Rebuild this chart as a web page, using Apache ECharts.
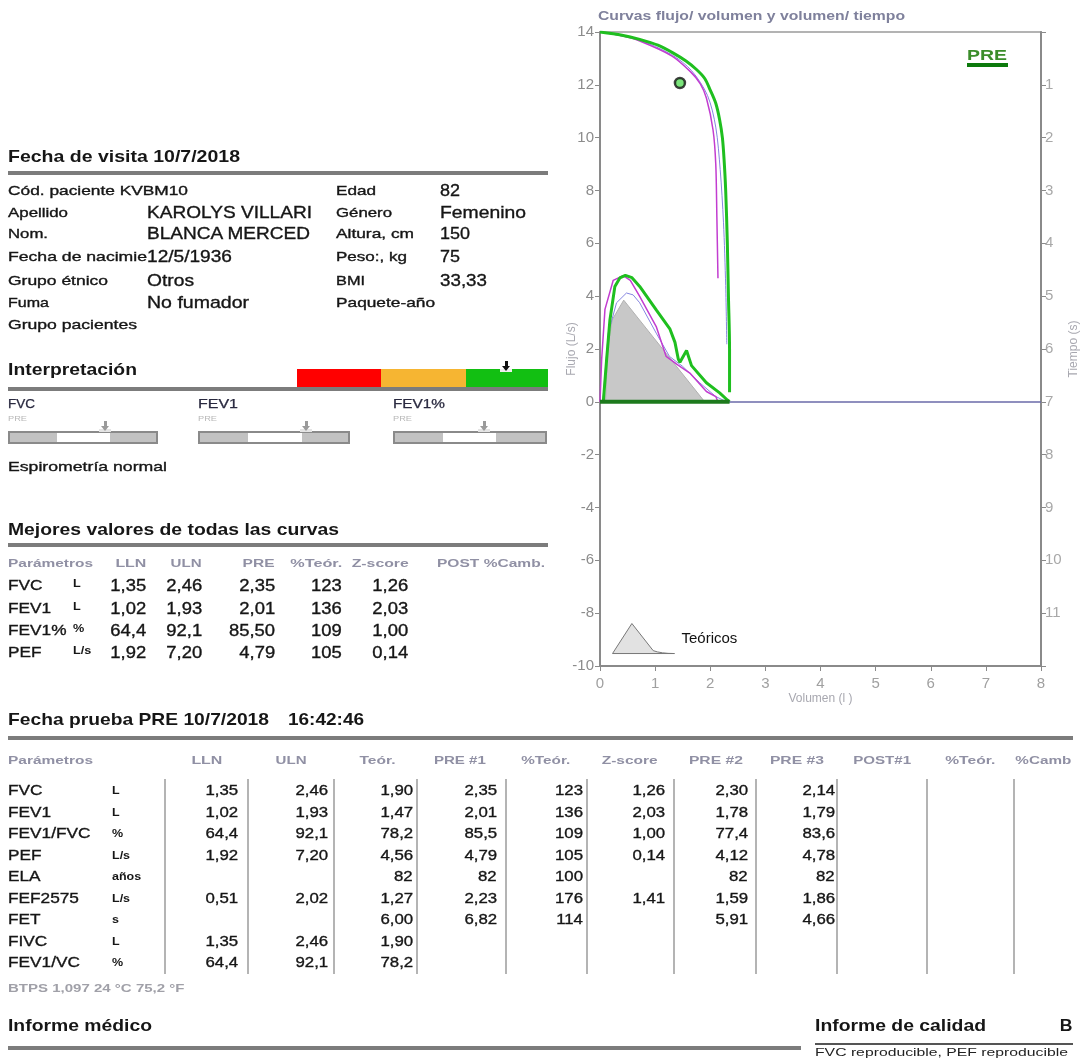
<!DOCTYPE html>
<html><head><meta charset="utf-8">
<script src="https://cdn.jsdelivr.net/npm/echarts@6/dist/echarts.min.js"></script>
<style>
html,body{margin:0;padding:0;background:#fff;}
#page{position:relative;width:1083px;height:1059px;overflow:hidden;font-family:"Liberation Sans",Arial,sans-serif;}
#chart{position:absolute;left:0;top:0;width:1083px;height:1059px;}
#ov{position:absolute;left:0;top:0;width:1083px;height:1059px;pointer-events:none;}
.t{position:absolute;white-space:nowrap;}
.r{position:absolute;}
</style></head><body>
<div id="page"><div id="chart"></div><div id="ov"></div></div>
<script>
// ---------------- chart data ----------------
const volumeTicks = [0, 1, 2, 3, 4, 5, 6, 7, 8];
const predictedFlowVolume = [[0.10,0],[0.14,2.0],[0.22,3.1],[0.43,3.85],[1.90,0]];
const pre1FlowVolume = [[0.06,0],[0.12,1.6],[0.18,3.1],[0.27,4.37],[0.36,4.69],[0.46,4.79],[0.58,4.70],[0.72,4.37],[1.02,3.48],[1.27,2.75],[1.36,2.25],[1.42,1.62],[1.45,1.50],[1.57,1.94],[1.66,1.37],[1.93,0.72],[2.17,0.34],[2.31,0.07],[2.35,0]];
const pre2FlowVolume = [[0.05,0],[0.15,2.6],[0.30,3.75],[0.48,4.12],[0.60,4.05],[0.72,3.75],[1.02,2.60],[1.26,1.72],[1.50,1.34],[1.81,0.72],[2.10,0.20],[2.30,0]];
const pre3FlowVolume = [[0.00,0],[0.03,1.6],[0.09,3.5],[0.24,4.6],[0.42,4.78],[0.55,4.6],[0.72,3.99],[1.02,2.85],[1.20,1.72],[1.41,1.40],[1.63,1.09],[1.93,0.39],[2.10,0.20],[2.14,0]];
const pre1Inspiration = [[0,0],[2.35,0]];
const pre1VolumeTime = [[0,0],[0.40,0.06],[0.72,0.14],[1.05,0.25],[1.33,0.40],[1.56,0.55],[1.75,0.71],[1.90,0.88],[2.00,1.10],[2.10,1.35],[2.17,1.66],[2.22,2.00],[2.25,2.40],[2.28,3.00],[2.31,4.00],[2.33,5.00],[2.35,6.00],[2.35,6.82]];
const pre2VolumeTime = [[0,0],[0.70,0.15],[1.30,0.43],[1.66,0.73],[1.95,1.20],[2.10,1.80],[2.18,2.60],[2.24,3.60],[2.28,4.80],[2.30,5.91]];
const pre3VolumeTime = [[0,0],[0.40,0.07],[0.70,0.16],[1.30,0.45],[1.64,0.75],[1.82,0.98],[1.93,1.25],[2.05,1.85],[2.10,2.50],[2.12,3.50],[2.14,4.66]];
const extrapolationPoint = [[1.45,12.07]];

// ---------------- patient data ----------------
const infoLabels = ["Cód. paciente KVBM10","Apellido","Nom.","Fecha de nacimie","Grupo étnico","Fuma","Grupo pacientes"];
const infoValues = ["","KAROLYS VILLARI","BLANCA MERCED","12/5/1936","Otros","No fumador",""];
const infoLabels2 = ["Edad","Género","Altura, cm","Peso:, kg","BMI","Paquete-año"];
const infoValues2 = ["82","Femenino","150","75","33,33",""];

// ---------------- best values ----------------
const bestHeaders = ["Parámetros","LLN","ULN","PRE","%Teór.","Z-score","POST %Camb."];
const bestParams = ["FVC","FEV1","FEV1%","PEF"];
const bestUnits = ["L","L","%","L/s"];
const bestLLN = ["1,35","1,02","64,4","1,92"];
const bestULN = ["2,46","1,93","92,1","7,20"];
const bestPRE = ["2,35","2,01","85,50","4,79"];
const bestPct = ["123","136","109","105"];
const bestZ = ["1,26","2,03","1,00","0,14"];

// ---------------- test table ----------------
const testHeaders = ["Parámetros","LLN","ULN","Teór.","PRE #1","%Teór.","Z-score","PRE #2","PRE #3","POST#1","%Teór.","%Camb"];
const testParams = ["FVC","FEV1","FEV1/FVC","PEF","ELA","FEF2575","FET","FIVC","FEV1/VC"];
const testUnits = ["L","L","%","L/s","años","L/s","s","L","%"];
const testLLN = ["1,35","1,02","64,4","1,92","","0,51","","1,35","64,4"];
const testULN = ["2,46","1,93","92,1","7,20","","2,02","","2,46","92,1"];
const testTeor = ["1,90","1,47","78,2","4,56","82","1,27","6,00","1,90","78,2"];
const testPre1 = ["2,35","2,01","85,5","4,79","82","2,23","6,82","",""];
const testPct = ["123","136","109","105","100","176","114","",""];
const testZ = ["1,26","2,03","1,00","0,14","","1,41","","",""];
const testPre2 = ["2,30","1,78","77,4","4,12","82","1,59","5,91","",""];
const testPre3 = ["2,14","1,79","83,6","4,78","82","1,86","4,66","",""];

// ---------------- text helpers ----------------
const ov = document.getElementById('ov');
const FAM = '"Liberation Sans", Arial, sans-serif';
const mctx = document.createElement('canvas').getContext('2d');
function txt(s, x, cy, o) {
  o = o || {};
  if (!s) return;
  const size = o.size || 13, weight = o.bold ? 'bold' : 'normal';
  const font = weight + ' ' + size + 'px ' + FAM;
  mctx.font = font;
  const nat = mctx.measureText(s).width;
  const sx = o.w ? o.w / nat : (o.sx || 1.1);
  const d = document.createElement('div');
  d.className = 't';
  d.textContent = s;
  d.style.font = font;
  d.style.lineHeight = (size * 1.2) + 'px';
  d.style.top = (cy - size * 0.59) + 'px';
  d.style.color = o.color || '#161616';
  if (o.stroke) d.style.webkitTextStroke = o.stroke + 'px ' + (o.color || '#161616');
  if (o.align === 'right') { d.style.right = (1083 - x) + 'px'; d.style.transformOrigin = 'right center'; }
  else { d.style.left = x + 'px'; d.style.transformOrigin = 'left center'; }
  d.style.transform = 'scaleX(' + sx + ')';
  ov.appendChild(d);
}
function box(x, y, w, h, bg, extra) {
  const d = document.createElement('div');
  d.className = 'r';
  d.style.left = x + 'px'; d.style.top = y + 'px';
  d.style.width = w + 'px'; d.style.height = h + 'px';
  if (bg) d.style.background = bg;
  if (extra) Object.assign(d.style, extra);
  ov.appendChild(d);
  return d;
}
function rule(x, y, w, h) { box(x, y, w, h || 4, '#7c7c7c'); }
function arrow(cx, top, col, base) {
  if (base) box(cx - 6, top + 8, 12, 3, base);
  box(cx - 1.5, top, 3, 5, col);
  box(cx - 4.5, top + 5, 0, 0, null, {borderLeft:'4.5px solid transparent', borderRight:'4.5px solid transparent', borderTop:'5px solid ' + col});
}
const SK = 0.35;

// ---------------- section 1: visit ----------------
txt("Fecha de visita 10/7/2018", 8, 157, {size:17, bold:true, w:232});
rule(8, 171, 540);
const rowY = [191, 213, 234, 257, 281, 303, 325];
const labW = [180, 60, 40, 139, 100, 41, 129];
const valW = [0, 165, 164, 85, 47, 102, 0];
infoLabels.forEach((s, i) => txt(s, 8, rowY[i], {size:13, w:labW[i], stroke:SK}));
infoValues.forEach((s, i) => txt(s, 147, rowY[i], {size:17, w:valW[i], stroke:SK}));
const lab2W = [40, 56, 78, 71, 29, 99];
const val2W = [20, 86, 30, 20, 47, 0];
infoLabels2.forEach((s, i) => txt(s, 336, rowY[i], {size:13, w:lab2W[i], stroke:SK}));
infoValues2.forEach((s, i) => txt(s, 440, rowY[i], {size:17, w:val2W[i], stroke:SK}));

// ---------------- interpretation ----------------
txt("Interpretación", 8, 370, {size:17, bold:true, w:129});
box(297, 369, 84, 18, '#ff0000');
box(381, 369, 85, 18, '#f6b532');
box(466, 369, 82, 18, '#12bf12');
arrow(506, 361, '#111', '#eeeeee');
rule(8, 387, 540);
const gauges = [["FVC", 8, 158, 57, 110, 105, 27], ["FEV1", 198, 350, 248, 302, 306, 40], ["FEV1%", 393, 547, 443, 496, 484, 52]];
gauges.forEach(g => {
  txt(g[0], g[1], 404, {size:12, w:g[6], color:'#2a2a40', stroke:0.25});
  txt("PRE", g[1], 419, {size:7, w:19, color:'#b8b8b8'});
  box(g[1], 431, g[2] - g[1], 13, '#c2c2c2', {boxSizing:'border-box', border:'2px solid #8a8a8a'});
  box(g[3], 433, g[4] - g[3], 9, '#ffffff');
  arrow(g[5], 421, '#9a9a9a', '#e4e4e4');
});
txt("Espirometría normal", 8, 467, {size:13.5, w:159, stroke:SK});

// ---------------- best values ----------------
txt("Mejores valores de todas las curvas", 8, 530, {size:17, bold:true, w:331});
rule(8, 543, 540);
const bestHx = [[8,'l',85],[146,'r',31],[202,'r',31],[275,'r',32],[342,'r',52],[409,'r',57],[437,'l',108]];
bestHeaders.forEach((s, i) => txt(s, bestHx[i][0], 563, {size:11, bold:true, color:'#9090a4', w:bestHx[i][2], align:bestHx[i][1]==='r'?'right':'left'}));
const bestY = [585, 608, 630, 652];
bestParams.forEach((s, i) => {
  const y = bestY[i];
  txt(s, 8, y, {size:15, sx:1.15, stroke:SK});
  txt(bestUnits[i], 73, y - 2, {size:11, bold:true, sx:1.15});
  txt(bestLLN[i], 146, y, {size:16, sx:1.15, align:'right', stroke:SK});
  txt(bestULN[i], 202, y, {size:16, sx:1.15, align:'right', stroke:SK});
  txt(bestPRE[i], 275, y, {size:16, sx:1.15, align:'right', stroke:SK});
  txt(bestPct[i], 342, y, {size:16, sx:1.15, align:'right', stroke:SK});
  txt(bestZ[i], 408, y, {size:16, sx:1.15, align:'right', stroke:SK});
});

// ---------------- test table ----------------
txt("Fecha prueba PRE 10/7/2018", 8, 720, {size:17, bold:true, w:261});
txt("16:42:46", 288, 720, {size:17, bold:true, w:76});
rule(8, 736, 1065);
const testHx = [[8,'l',85],[222,'r',31],[307,'r',31],[395,'r',36],[486,'r',52],[570,'r',49],[658,'r',56],[743,'r',54],[824,'r',54],[911,'r',58],[995,'r',50],[1071,'r',56]];
testHeaders.forEach((s, i) => txt(s, testHx[i][0], 760, {size:11, bold:true, color:'#9090a4', w:testHx[i][2], align:testHx[i][1]==='r'?'right':'left'}));
const sepX = [165, 248, 334, 417, 506, 587, 674, 756, 837, 927, 1014];
sepX.forEach(x => box(x - 1, 779, 2, 195, '#b4b4b4'));
const colRight = [238, 328, 413, 497, 583, 665, 748, 835];
const cols = [testLLN, testULN, testTeor, testPre1, testPct, testZ, testPre2, testPre3];
testParams.forEach((s, i) => {
  const y = 790 + 21.5 * i;
  txt(s, 8, y, {size:15, sx:1.15, stroke:SK});
  txt(testUnits[i], 112, y + 1, {size:10, bold:true, sx:1.25});
  cols.forEach((c, j) => txt(c[i], colRight[j], y, {size:15, sx:1.12, align:'right', stroke:SK}));
});
txt("BTPS  1,097  24 °C  75,2 °F", 8, 988, {size:11, bold:true, color:'#a0a0a8', w:189});

// ---------------- bottom ----------------
txt("Informe médico", 8, 1025, {size:16, bold:true, w:144});
rule(8, 1046, 793);
txt("Informe de calidad", 815, 1025, {size:16, bold:true, w:171});
txt("B", 1073, 1025, {size:16, bold:true, align:'right', sx:1.1});
box(815, 1043, 258, 2, '#555');
txt("FVC reproducible, PEF reproducible", 815, 1052, {size:11, w:253, color:'#222'});

// chart title and PRE label
txt("Curvas flujo/ volumen y volumen/ tiempo", 598, 16, {size:12, bold:true, w:307, color:'#7f819c'});
txt("PRE", 967, 55, {size:15, bold:true, w:40, color:'#3b8d2a'});
box(967, 63, 41, 4, '#0d7a0d');

// ---------------- chart ----------------
const chart = echarts.init(document.getElementById('chart'), null, {renderer:'canvas'});
const axisCol = '#8a8a8a';
chart.setOption({
  backgroundColor: 'transparent',
  animation: false,
  legend: {
    data:[{name:'Teóricos', icon:'path://M0,31 L20,0 L42,28 Q50,31 64,31 Z'}],
    left:607, top:618, itemWidth:62, itemHeight:33, itemGap:0, selectedMode:false,
    itemStyle:{color:'#e2e2e2', borderColor:'#777', borderWidth:1},
    textStyle:{fontSize:15, color:'#111', fontFamily:FAM, padding:[0,0,0,2]}
  },
  grid: {left:600, top:32, width:441, height:634, show:true, borderColor:'#9a9a9a', borderWidth:1.5, backgroundColor:'transparent'},
  xAxis: {type:'value', min:0, max:8, interval:1, name:'Volumen (l )', nameLocation:'middle', nameGap:27, nameMoveOverlap:false,
    nameTextStyle:{color:'#a8a8b0', fontSize:12, fontFamily:FAM},
    axisLine:{onZero:false, lineStyle:{color:axisCol, width:2}}, axisTick:{length:5, lineStyle:{color:axisCol}},
    axisLabel:{color:'#a0a0a0', fontSize:15, margin:10, fontFamily:FAM, formatter: v => String(volumeTicks[v] !== undefined ? volumeTicks[v] : v)}, splitLine:{show:false}},
  yAxis: [
    {type:'value', min:-10, max:14, interval:2, name:'Flujo (L/s)', nameLocation:'middle', nameGap:22, nameRotate:90, nameMoveOverlap:false,
      nameTextStyle:{color:'#a8a8b0', fontSize:12, fontFamily:FAM},
      axisLine:{show:true, onZero:false, lineStyle:{color:axisCol, width:2}}, axisTick:{show:true, length:5, lineStyle:{color:axisCol}},
      axisLabel:{color:'#8c8c8c', fontSize:15, margin:6, fontFamily:FAM}, splitLine:{show:false}},
    {type:'value', min:0, max:12, interval:1, inverse:true, position:'right', name:'Tiempo (s)', nameLocation:'middle', nameGap:27, nameRotate:90, nameMoveOverlap:false,
      nameTextStyle:{color:'#a8a8b0', fontSize:12, fontFamily:FAM},
      axisLine:{show:true, onZero:false, lineStyle:{color:axisCol, width:2}}, axisTick:{show:true, length:5, lineStyle:{color:axisCol}},
      axisLabel:{color:'#a8a8a8', fontSize:15, margin:4, fontFamily:FAM, formatter: v => (v === 0 || v === 12) ? '' : String(v)}, splitLine:{show:false}}
  ],
  series: [
    {name:'Teóricos', type:'line', data:predictedFlowVolume, symbol:'none', lineStyle:{color:'#b0b0b0', width:1},
      itemStyle:{color:'#c8c8c8'}, areaStyle:{color:'#c8c8c8', opacity:1}, z:1,
      markLine:{silent:true, symbol:'none', label:{show:false}, lineStyle:{color:'#6a6aa8', width:1.5, type:'solid'}, data:[{yAxis:0}]}},
    {name:'PRE #2', type:'line', data:pre2FlowVolume, symbol:'none', lineStyle:{color:'#8585e0', width:1}, z:2},
    {name:'PRE #3', type:'line', data:pre3FlowVolume, symbol:'none', lineStyle:{color:'#c23cd0', width:1.5}, z:3},
    {name:'PRE #2 VT', type:'line', yAxisIndex:1, data:pre2VolumeTime, symbol:'none', smooth:0.3, lineStyle:{color:'#8585e0', width:1}, z:2},
    {name:'PRE #3 VT', type:'line', yAxisIndex:1, data:pre3VolumeTime, symbol:'none', smooth:0.3, lineStyle:{color:'#c23cd0', width:1.5}, z:3},
    {name:'PRE #1', type:'line', data:pre1FlowVolume, symbol:'none', lineStyle:{color:'#1fbf1f', width:3}, z:4},
    {name:'PRE #1 VT', type:'line', yAxisIndex:1, data:pre1VolumeTime, symbol:'none', smooth:0.3, lineStyle:{color:'#1fbf1f', width:3}, z:4},
    {name:'PRE #1 insp', type:'line', data:pre1Inspiration, symbol:'none', lineStyle:{color:'#1d7a1d', width:4}, z:5},
    {name:'Extrapolación', type:'scatter', data:extrapolationPoint, symbol:'circle', symbolSize:10,
      itemStyle:{color:'#5add5a', borderColor:'#111', borderWidth:2.5}, z:6}
  ]
});
</script>
</body></html>
